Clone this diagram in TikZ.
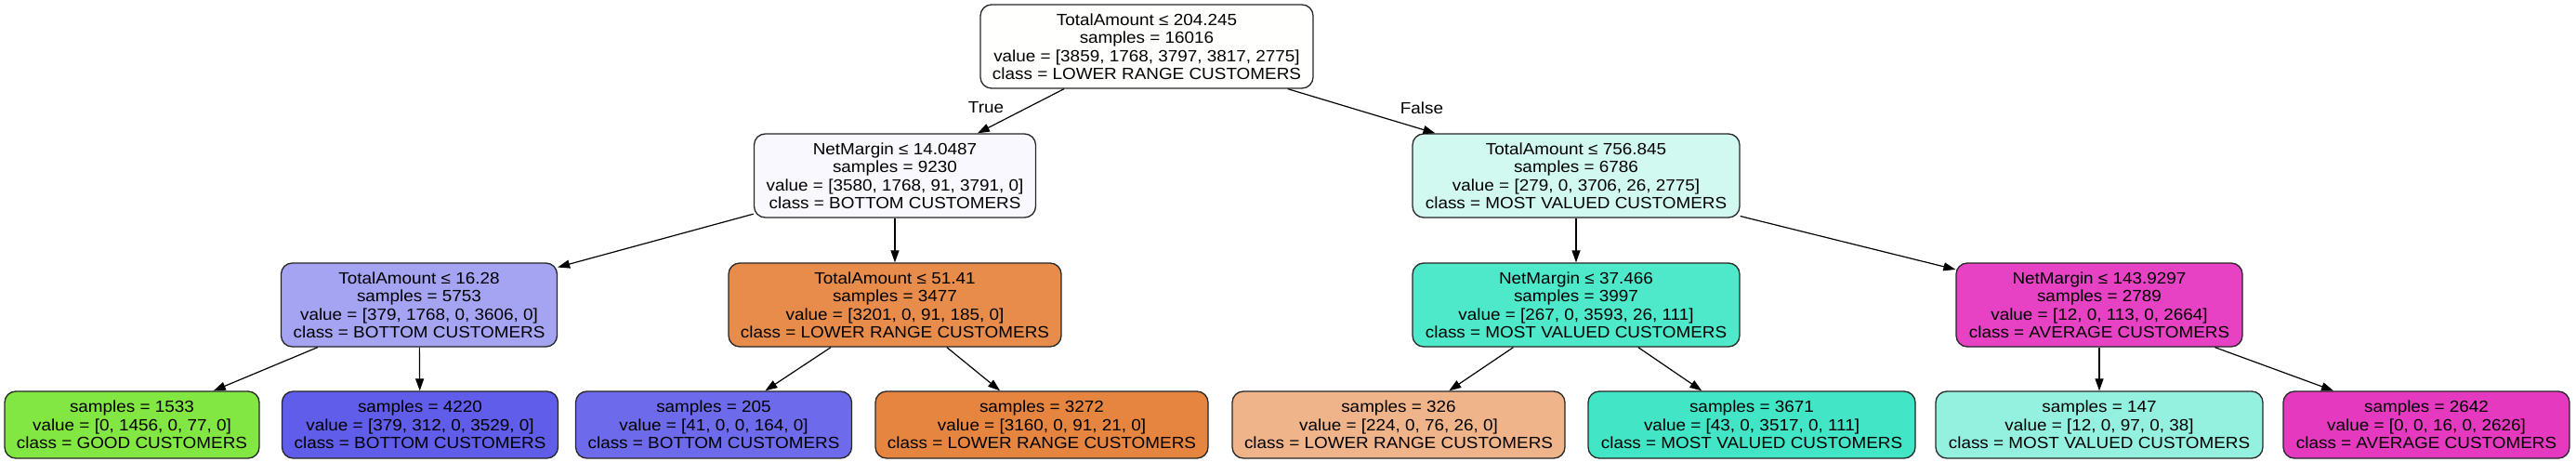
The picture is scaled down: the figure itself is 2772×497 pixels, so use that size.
\documentclass[tikz,border=0pt]{standalone}
\usepackage{fontspec}
\setmainfont{Liberation Sans}[FakeStretch=1.08]
\usetikzlibrary{arrows.meta}
\definecolor{cRoot}{HTML}{FFFFFE}
\definecolor{cNa}{HTML}{F8F8FE}
\definecolor{cNb}{HTML}{D1F9F2}
\definecolor{cNc}{HTML}{A5A4F3}
\definecolor{cNd}{HTML}{E78C4A}
\definecolor{cNe}{HTML}{4EE8CB}
\definecolor{cNf}{HTML}{E642C3}
\definecolor{cLa}{HTML}{82E643}
\definecolor{cLb}{HTML}{5F5DEA}
\definecolor{cLc}{HTML}{6D6BEC}
\definecolor{cLd}{HTML}{E68540}
\definecolor{cLe}{HTML}{F0B48A}
\definecolor{cLf}{HTML}{42E6C7}
\definecolor{cLg}{HTML}{94F1E0}
\definecolor{cLh}{HTML}{E53AC0}
\begin{document}
\begin{tikzpicture}[x=1pt,y=-1pt,
  treebox/.style={draw=black!85, line width=1.3pt, rounded corners=12pt, align=center,
    inner sep=0pt, font=\fontsize{17.5}{19.5}\selectfont, minimum height=90pt},
  leafbox/.style={treebox, minimum height=72pt},
  edgeline/.style={-{Triangle[length=13pt,width=9pt]}, line width=1.2pt, black},
  edgelabel/.style={font=\fontsize{17.5}{19.5}\selectfont}]
\useasboundingbox (0,0) rectangle (2772,497);
% level 0
\node[treebox, fill=cRoot, minimum width=358pt] (root) at (1234,50)
  {TotalAmount ≤ 204.245\\samples = 16016\\value = [3859, 1768, 3797, 3817, 2775]\\class = LOWER RANGE CUSTOMERS};
% level 1
\node[treebox, fill=cNa, minimum width=303pt] (n1) at (963,189)
  {NetMargin ≤ 14.0487\\samples = 9230\\value = [3580, 1768, 91, 3791, 0]\\class = BOTTOM CUSTOMERS};
\node[treebox, fill=cNb, minimum width=352pt] (n2) at (1696,189)
  {TotalAmount ≤ 756.845\\samples = 6786\\value = [279, 0, 3706, 26, 2775]\\class = MOST VALUED CUSTOMERS};
% level 2
\node[treebox, fill=cNc, minimum width=297pt] (n3) at (451,328)
  {TotalAmount ≤ 16.28\\samples = 5753\\value = [379, 1768, 0, 3606, 0]\\class = BOTTOM CUSTOMERS};
\node[treebox, fill=cNd, minimum width=358pt] (n4) at (963,328)
  {TotalAmount ≤ 51.41\\samples = 3477\\value = [3201, 0, 91, 185, 0]\\class = LOWER RANGE CUSTOMERS};
\node[treebox, fill=cNe, minimum width=352pt] (n5) at (1696,328)
  {NetMargin ≤ 37.466\\samples = 3997\\value = [267, 0, 3593, 26, 111]\\class = MOST VALUED CUSTOMERS};
\node[treebox, fill=cNf, minimum width=308pt] (n6) at (2259,328)
  {NetMargin ≤ 143.9297\\samples = 2789\\value = [12, 0, 113, 0, 2664]\\class = AVERAGE CUSTOMERS};
% leaves
\node[leafbox, fill=cLa, minimum width=274pt] (l1) at (142,457)
  {samples = 1533\\value = [0, 1456, 0, 77, 0]\\class = GOOD CUSTOMERS};
\node[leafbox, fill=cLb, minimum width=297pt] (l2) at (452,457)
  {samples = 4220\\value = [379, 312, 0, 3529, 0]\\class = BOTTOM CUSTOMERS};
\node[leafbox, fill=cLc, minimum width=297pt] (l3) at (768,457)
  {samples = 205\\value = [41, 0, 0, 164, 0]\\class = BOTTOM CUSTOMERS};
\node[leafbox, fill=cLd, minimum width=358pt] (l4) at (1121,457)
  {samples = 3272\\value = [3160, 0, 91, 21, 0]\\class = LOWER RANGE CUSTOMERS};
\node[leafbox, fill=cLe, minimum width=358pt] (l5) at (1505,457)
  {samples = 326\\value = [224, 0, 76, 26, 0]\\class = LOWER RANGE CUSTOMERS};
\node[leafbox, fill=cLf, minimum width=352pt] (l6) at (1885,457)
  {samples = 3671\\value = [43, 0, 3517, 0, 111]\\class = MOST VALUED CUSTOMERS};
\node[leafbox, fill=cLg, minimum width=352pt] (l7) at (2259,457)
  {samples = 147\\value = [12, 0, 97, 0, 38]\\class = MOST VALUED CUSTOMERS};
\node[leafbox, fill=cLh, minimum width=308pt] (l8) at (2611,457)
  {samples = 2642\\value = [0, 0, 16, 0, 2626]\\class = AVERAGE CUSTOMERS};
% edges
\draw[edgeline] (root) -- (n1);
\draw[edgeline] (root) -- (n2);
\draw[edgeline] (n1) -- (n3);
\draw[edgeline] (n1) -- (n4);
\draw[edgeline] (n2) -- (n5);
\draw[edgeline] (n2) -- (n6);
\draw[edgeline] (n3) -- (l1);
\draw[edgeline] (n3) -- (l2);
\draw[edgeline] (n4) -- (l3);
\draw[edgeline] (n4) -- (l4);
\draw[edgeline] (n5) -- (l5);
\draw[edgeline] (n5) -- (l6);
\draw[edgeline] (n6) -- (l7);
\draw[edgeline] (n6) -- (l8);
% edge labels
\node[edgelabel] (tTrue) at (1061,116) {True};
\node[edgelabel] (tFalse) at (1530,116) {False};
\end{tikzpicture}
\end{document}
